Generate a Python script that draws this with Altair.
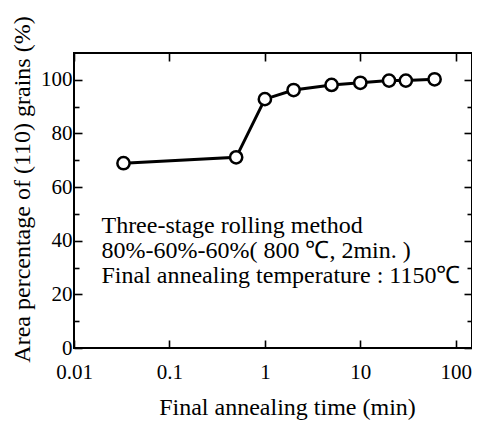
import altair as alt
import pandas as pd

# data
times = [0.033, 0.5, 1, 2, 5, 10, 20, 30, 60]
area = [68.9, 71.1, 92.8, 96.2, 98.1, 98.9, 99.7, 99.7, 100.2]

x_ticks = [0.01, 0.1, 1, 10, 100]
y_major = [0, 20, 40, 60, 80, 100]
y_minor = [10, 30, 50, 70, 90]

note_lines = ["Three-stage rolling method",
              "80%-60%-60%( 800 \u2103, 2min. )",
              "Final annealing temperature : 1150\u2103"]
note_x = 0.0194
note_y = 42.9

df = pd.DataFrame({"t": times, "a": area})
note_df = pd.DataFrame({"t": [note_x], "a": [note_y], "txt": ["\n".join(note_lines)]})

FONT = "Liberation Serif"
xs = alt.Scale(type="log", domain=[0.01, 148], nice=False)
ys = alt.Scale(domain=[0, 110], nice=False, zero=False)

tick_common = dict(domain=False, grid=False, tickColor="black", tickWidth=1.6)

line = alt.Chart(df).mark_line(color="black", strokeWidth=3).encode(
    x=alt.X("t:Q", scale=xs, axis=alt.Axis(
        orient="bottom", values=x_ticks, offset=-8, tickSize=8, labelPadding=24,
        labelBaseline="middle", labelFont=FONT, labelFontSize=21, labelColor="black",
        labelExpr="datum.value >= 1 ? format(datum.value, 'd') : format(datum.value, '.2~f')",
        labelFlush=False, labelOverlap=False,
        title="Final annealing time (min)", titleFont=FONT, titleFontSize=24,
        titleFontWeight="normal", titleColor="black", titleX=213, titleY=67,
        titleBaseline="middle", titleAlign="center", **tick_common)),
    y=alt.Y("a:Q", scale=ys, axis=alt.Axis(
        orient="left", values=y_major, offset=-8, tickSize=8, labelPadding=2,
        labelFont=FONT, labelFontSize=21, labelColor="black", labelFlush=False,
        labelOverlap=False,
        title="Area percentage of (110) grains (%)", titleFont=FONT, titleFontSize=24,
        titleFontWeight="normal", titleColor="black", titleX=-60, titleY=136,
        titleAngle=-90, titleBaseline="middle", titleAlign="center", **tick_common)),
)

points = alt.Chart(df).mark_point(shape="circle", filled=True, fill="white",
                                  stroke="black", strokeWidth=2.5, size=150, opacity=1).encode(
    x=alt.X("t:Q", scale=xs, axis=alt.Axis(
        orient="top", values=x_ticks, offset=-8, tickSize=8, labels=False, title=None,
        **tick_common)),
    y=alt.Y("a:Q", scale=ys, axis=alt.Axis(
        orient="right", values=y_major, offset=-8, tickSize=8, labels=False, title=None,
        **tick_common)),
)

note = alt.Chart(note_df).mark_text(
    align="left", baseline="alphabetic", font=FONT, fontSize=24, lineHeight=25,
    lineBreak="\n", color="black").encode(
    x=alt.X("t:Q", scale=xs, axis=None),
    y=alt.Y("a:Q", scale=ys, axis=alt.Axis(
        orient="left", values=y_minor, offset=-5, tickSize=5, labels=False, title=None,
        **tick_common)),
    text="txt:N",
)

minor_right = alt.Chart(df).mark_point(opacity=0).encode(
    x=alt.X("t:Q", scale=xs, axis=None),
    y=alt.Y("a:Q", scale=ys, axis=alt.Axis(
        orient="right", values=y_minor, offset=-5, tickSize=5, labels=False, title=None,
        **tick_common)),
)

chart = alt.layer(line, points, note, minor_right).resolve_axis(
    x="independent", y="independent"
).properties(
    width=398, height=295,
    autosize=alt.AutoSizeParams(type="none"),
    padding={"left": 66, "top": 45, "right": 0, "bottom": 74},
    background="white",
).configure_view(stroke="black", strokeWidth=2)

chart.save("out.html", embed_options={"renderer": "svg", "actions": False})
